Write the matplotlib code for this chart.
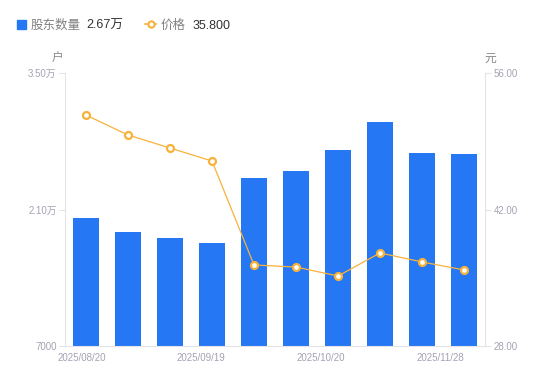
import numpy as np
import matplotlib
matplotlib.use("Agg")
from matplotlib import pyplot as plt

plt.rcParams['font.family'] = ['Liberation Sans', 'Noto Sans CJK SC', 'DejaVu Sans']

dates = ['2025/08/20', '2025/08/29', '2025/09/10', '2025/09/19', '2025/09/30',
         '2025/10/10', '2025/10/20', '2025/10/31', '2025/11/14', '2025/11/28']
holders = [20130, 18690, 18080, 17560, 24230, 24950, 27100, 29970, 26800, 26700]
price = [51.69, 49.64, 48.31, 46.97, 36.31, 36.10, 35.18, 37.54, 36.62, 35.80]
label_idx = [0, 3, 6, 9]

bar_c = '#2577f4'
line_c = '#f7b23b'
tick_c = '#a3a3b3'
axis_c = '#e3e3e8'

fig = plt.figure(figsize=(5.5, 3.81), dpi=100)
ax = fig.add_axes([65 / 550, 1 - 346 / 381, 420 / 550, 273 / 381])
ax2 = ax.twinx()

x = np.arange(len(dates))
ax.bar(x, holders, width=0.6, color=bar_c, zorder=2)
ax2.plot(x, price, color=line_c, lw=0.9, marker='o', ms=5,
         mfc='white', mec=line_c, mew=1.6, zorder=3)

ax.set_xlim(-0.5, len(dates) - 0.5)
ax.set_ylim(7000, 35000)
ax2.set_ylim(28, 56)
ax.set_yticks([7000, 21000, 35000])
ax.set_yticklabels(['7000', '2.10万', '3.50万'])
ax2.set_yticks([28, 42, 56])
ax2.set_yticklabels(['28.00', '42.00', '56.00'])

# x labels sit a bit off the bar centres, spread evenly
ax.set_xticks(np.linspace(-0.1, 8.43, len(label_idx)))
ax.set_xticklabels([dates[i] for i in label_idx])

for a in (ax, ax2):
    for s in a.spines.values():
        s.set_visible(False)
    a.tick_params(colors=tick_c, labelsize=7, length=4, width=0.8)
ax.spines['left'].set_visible(True)
ax.spines['left'].set_color(axis_c)
ax.spines['bottom'].set_visible(True)
ax.spines['bottom'].set_color(axis_c)
ax2.spines['right'].set_visible(True)
ax2.spines['right'].set_color(axis_c)
ax.tick_params(axis='y', color=axis_c, pad=2)
ax2.tick_params(axis='y', color=axis_c, pad=2)
ax.tick_params(axis='x', length=0, pad=5)

fig.text(58 / 550, 1 - 59 / 381, '户', color='#888', fontsize=8.5,
         ha='center', va='center')
fig.text(490 / 550, 1 - 59 / 381, '元', color='#888', fontsize=8.5,
         ha='center', va='center')

# legend
ly = 1 - 24 / 381
ty = 1 - 26 / 381
fig.patches.append(plt.Rectangle((17 / 550, ly - 4.5 / 381), 9 / 550, 9 / 381,
                                 transform=fig.transFigure, color=bar_c))
fig.text(31 / 550, ty, '股东数量', color='#808080', fontsize=9, va='center')
fig.text(86 / 550, ty, '2.67万', color='#333', fontsize=9, va='center')
fig.lines.append(plt.Line2D([145 / 550, 156 / 550], [ly, ly], transform=fig.transFigure,
                            color=line_c, lw=1.2))
fig.lines.append(plt.Line2D([150.5 / 550], [ly], transform=fig.transFigure,
                            color=line_c, marker='o', ms=4.5, mfc='white', mew=1.5))
fig.text(161 / 550, ty, '价格', color='#808080', fontsize=9, va='center')
fig.text(193 / 550, ty, '35.800', color='#333', fontsize=9, va='center')

plt.savefig('out.png', dpi=100)
